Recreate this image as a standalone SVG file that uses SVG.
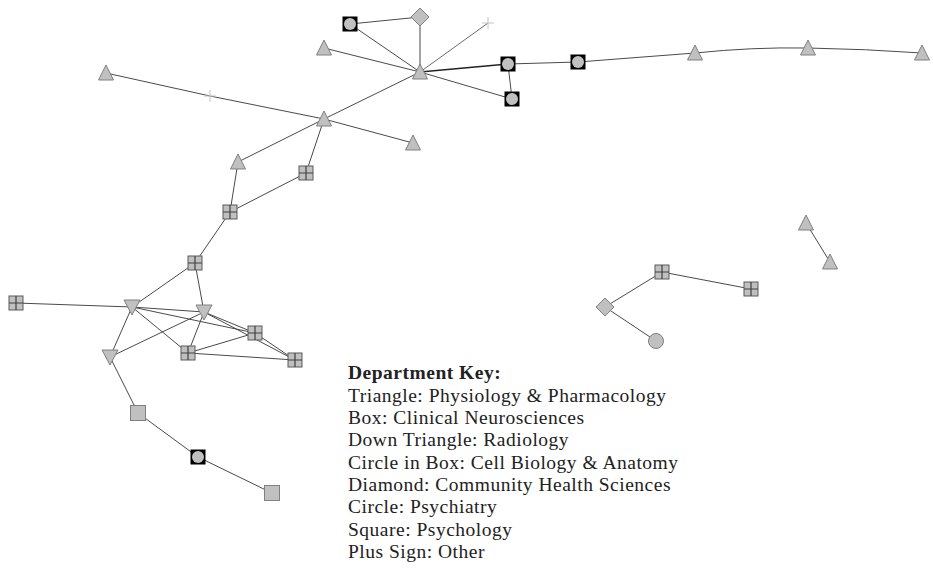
<svg xmlns="http://www.w3.org/2000/svg" xmlns:xlink="http://www.w3.org/1999/xlink" width="933" height="585" viewBox="0 0 933 585">
<style>
.bg{fill:#ffffff}
.edge{stroke:#4a4a4a;stroke-width:1;fill:none}
.shape{fill:#c0c0c0;stroke:#808080;stroke-width:1}
.bx{fill:#c0c0c0;stroke:#5a5a5a;stroke-width:1}
.cross{stroke:#404040;stroke-width:1.2;fill:none}
.plus{stroke:#c4c4c4;stroke-width:1;fill:none}
.key{font-family:"Liberation Serif","Times New Roman",serif;font-size:19.5px;letter-spacing:0.5px;fill:#222}
.keyb{font-weight:bold}
</style>
<defs>
<path id="tri" d="M0,-8 L7.5,7 L-7.5,7 Z" class="shape"/>
<path id="dtri" d="M-8,-7 L8,-7 L0,8 Z" class="shape"/>
<g id="boxx"><rect x="-7" y="-7" width="14" height="14" class="bx"/><path d="M0,-7V7M-7,0H7" class="cross"/></g>
<g id="cbox"><rect x="-7.5" y="-7.5" width="15" height="15" fill="#000"/><circle r="6" fill="#c0c0c0"/></g>
<rect id="sq" x="-7.5" y="-7.5" width="15" height="15" class="shape"/>
<path id="dia" d="M0,-9 L9,0 L0,9 L-9,0 Z" class="shape"/>
<circle id="circ" r="7.5" class="shape"/>
<path id="plus" d="M-6,0H6M0,-6V6" class="plus"/>
</defs>
<rect class="bg" x="0" y="0" width="933" height="585"/>
<g id="connectors">
<line class="edge" x1="420" y1="72" x2="324" y2="48"/>
<line class="edge" x1="420" y1="72" x2="350" y2="24"/>
<line class="edge" x1="420" y1="72" x2="420" y2="17"/>
<line class="edge" x1="420" y1="17" x2="350" y2="24"/>
<line class="edge" x1="420" y1="72" x2="488" y2="23" style="stroke:#6a6a6a"/>
<line class="edge" x1="420" y1="72" x2="508" y2="64" style="stroke-width:1.6;stroke:#222"/>
<line class="edge" x1="420" y1="72" x2="512" y2="99"/>
<line class="edge" x1="508" y1="64" x2="512" y2="99"/>
<line class="edge" x1="508" y1="64" x2="578" y2="62"/>
<line class="edge" x1="578" y1="62" x2="695" y2="53"/>
<path class="edge" d="M695,53 Q752,47 808,48"/>
<path class="edge" d="M808,48 Q866,49 922,53"/>
<line class="edge" x1="420" y1="72" x2="324" y2="119"/>
<line class="edge" x1="106" y1="73" x2="210" y2="96"/>
<line class="edge" x1="210" y1="96" x2="324" y2="119"/>
<line class="edge" x1="324" y1="119" x2="413" y2="143"/>
<line class="edge" x1="324" y1="119" x2="238" y2="162"/>
<line class="edge" x1="324" y1="119" x2="306" y2="173"/>
<line class="edge" x1="238" y1="162" x2="230" y2="212"/>
<line class="edge" x1="306" y1="173" x2="230" y2="212"/>
<line class="edge" x1="230" y1="212" x2="195" y2="263"/>
<line class="edge" x1="195" y1="263" x2="132" y2="307"/>
<line class="edge" x1="195" y1="263" x2="204" y2="312"/>
<line class="edge" x1="16" y1="303" x2="132" y2="307"/>
<line class="edge" x1="132" y1="307" x2="204" y2="312"/>
<line class="edge" x1="132" y1="307" x2="255" y2="333"/>
<line class="edge" x1="132" y1="307" x2="188" y2="353"/>
<line class="edge" x1="132" y1="307" x2="110" y2="357"/>
<line class="edge" x1="204" y1="312" x2="255" y2="333"/>
<line class="edge" x1="204" y1="312" x2="295" y2="360"/>
<line class="edge" x1="204" y1="312" x2="188" y2="353"/>
<line class="edge" x1="204" y1="312" x2="110" y2="357"/>
<line class="edge" x1="188" y1="353" x2="255" y2="333"/>
<line class="edge" x1="188" y1="353" x2="295" y2="360"/>
<line class="edge" x1="255" y1="333" x2="295" y2="360"/>
<line class="edge" x1="110" y1="357" x2="138" y2="413"/>
<line class="edge" x1="138" y1="413" x2="198" y2="457"/>
<line class="edge" x1="198" y1="457" x2="272" y2="493"/>
<line class="edge" x1="806" y1="223" x2="830" y2="262"/>
<line class="edge" x1="605" y1="307" x2="662" y2="272"/>
<line class="edge" x1="662" y1="272" x2="751" y2="289"/>
<line class="edge" x1="605" y1="307" x2="656" y2="341"/>
</g>
<g id="n1"><use href="#cbox" x="350" y="24"/></g>
<g id="n2"><use href="#dia" x="420" y="17"/></g>
<g id="n3"><use href="#plus" x="488" y="23"/></g>
<g id="n4"><use href="#tri" x="324" y="48"/></g>
<g id="n5"><use href="#tri" x="420" y="72"/></g>
<g id="n6"><use href="#cbox" x="508" y="64"/></g>
<g id="n7"><use href="#cbox" x="512" y="99"/></g>
<g id="n8"><use href="#cbox" x="578" y="62"/></g>
<g id="n9"><use href="#tri" x="695" y="53"/></g>
<g id="n10"><use href="#tri" x="808" y="48"/></g>
<g id="n11"><use href="#tri" x="922" y="53"/></g>
<g id="n12"><use href="#tri" x="106" y="73"/></g>
<g id="n13"><use href="#plus" x="210" y="96"/></g>
<g id="n14"><use href="#tri" x="324" y="119"/></g>
<g id="n15"><use href="#tri" x="413" y="143"/></g>
<g id="n16"><use href="#tri" x="238" y="162"/></g>
<g id="n17"><use href="#boxx" x="306" y="173"/></g>
<g id="n18"><use href="#boxx" x="230" y="212"/></g>
<g id="n19"><use href="#boxx" x="195" y="263"/></g>
<g id="n20"><use href="#boxx" x="16" y="303"/></g>
<g id="n21"><use href="#dtri" x="132" y="307"/></g>
<g id="n22"><use href="#dtri" x="204" y="312"/></g>
<g id="n23"><use href="#boxx" x="255" y="333"/></g>
<g id="n24"><use href="#boxx" x="188" y="353"/></g>
<g id="n25"><use href="#boxx" x="295" y="360"/></g>
<g id="n26"><use href="#dtri" x="110" y="357"/></g>
<g id="n27"><use href="#sq" x="138" y="413"/></g>
<g id="n28"><use href="#cbox" x="198" y="457"/></g>
<g id="n29"><use href="#sq" x="272" y="493"/></g>
<g id="n30"><use href="#tri" x="806" y="223"/></g>
<g id="n31"><use href="#tri" x="830" y="262"/></g>
<g id="n32"><use href="#boxx" x="662" y="272"/></g>
<g id="n33"><use href="#boxx" x="751" y="289"/></g>
<g id="n34"><use href="#dia" x="605" y="307"/></g>
<g id="n35"><use href="#circ" x="656" y="341"/></g>
<g id="legend" class="key">
<text x="348" y="379" class="keyb">Department Key:</text>
<text x="348" y="401.5">Triangle: Physiology &amp; Pharmacology</text>
<text x="348" y="424">Box: Clinical Neurosciences</text>
<text x="348" y="446">Down Triangle: Radiology</text>
<text x="348" y="468.5">Circle in Box: Cell Biology &amp; Anatomy</text>
<text x="348" y="491">Diamond: Community Health Sciences</text>
<text x="348" y="513">Circle: Psychiatry</text>
<text x="348" y="535.5">Square: Psychology</text>
<text x="348" y="558">Plus Sign: Other</text>
</g>
</svg>
